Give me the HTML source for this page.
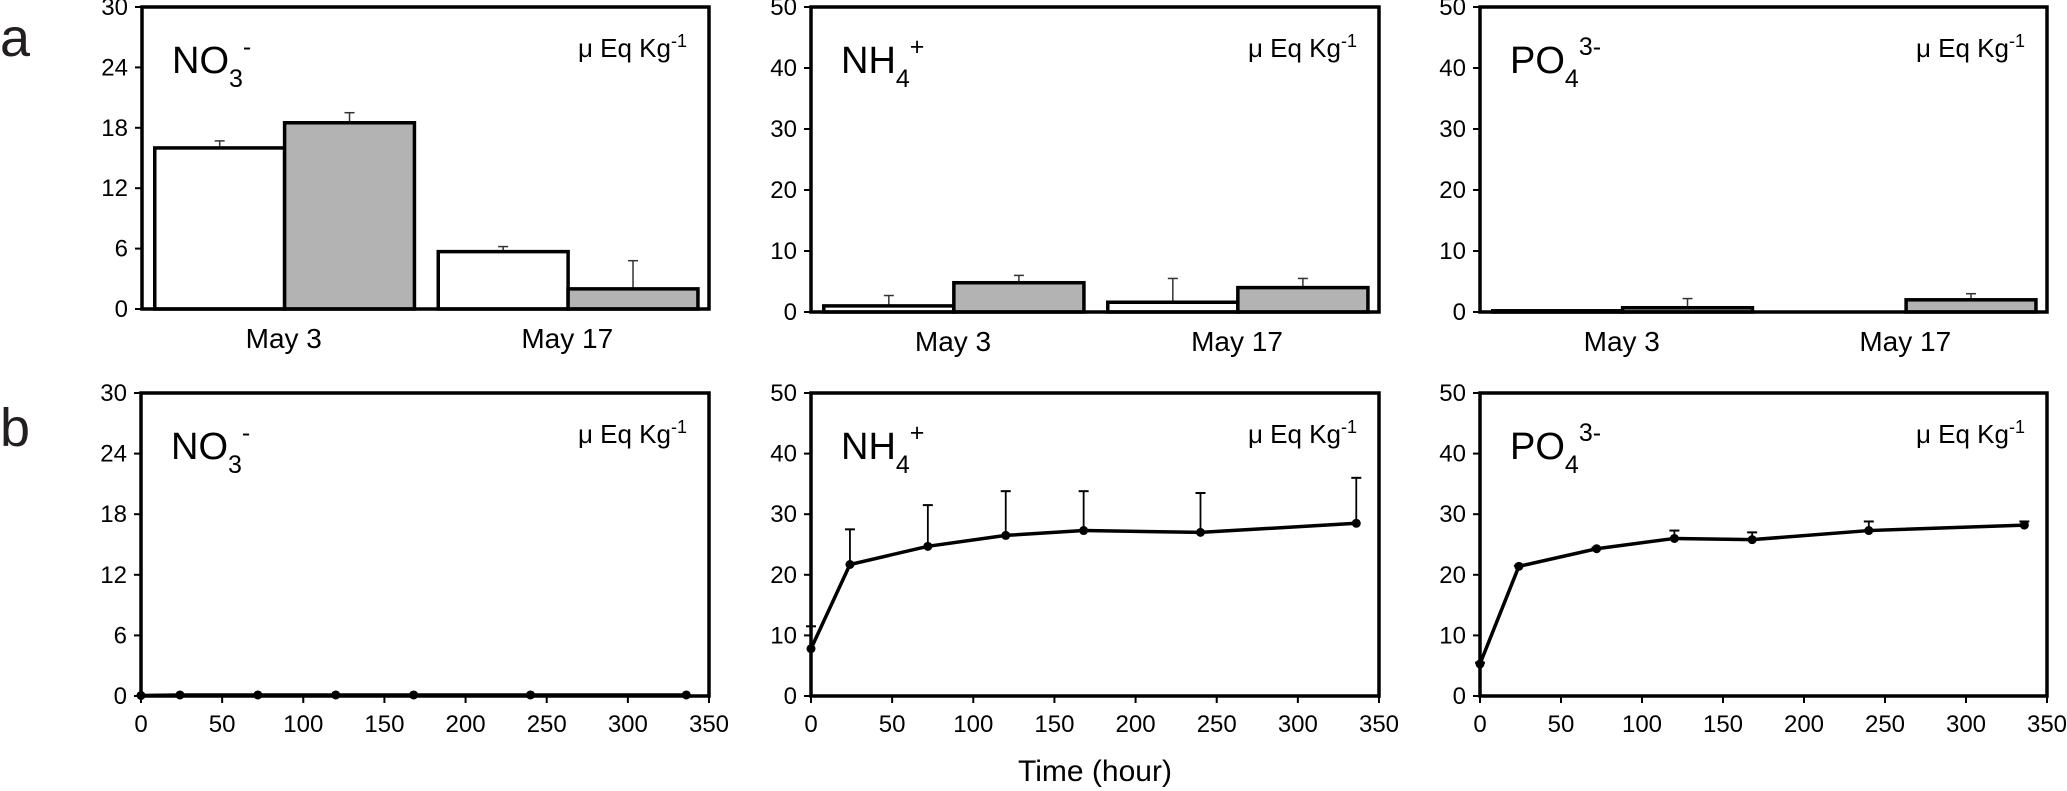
<!DOCTYPE html>
<html><head><meta charset="utf-8"><style>
html,body{margin:0;padding:0;background:#fff;}
svg{display:block;font-family:"Liberation Sans",Arial,sans-serif;}
</style></head><body>
<svg id="fig" width="2067" height="791" viewBox="0 0 2067 791"></svg>
<script>
// ---- data ----
const barCategories = ["May 3", "May 17"];
const no3White = [16, 5.7];
const no3WhiteErr = [16.7, 6.2];
const no3Gray = [18.5, 2.0];
const no3GrayErr = [19.5, 4.8];
const nh4White = [1.0, 1.6];
const nh4WhiteErr = [2.7, 5.5];
const nh4Gray = [4.8, 4.0];
const nh4GrayErr = [6.0, 5.5];
const po4White = [0.2, 0.0];
const po4WhiteErr = [0.2, 0.0];
const po4Gray = [0.7, 2.0];
const po4GrayErr = [2.2, 3.0];

const timeHours = [0, 24, 72, 120, 168, 240, 336];
const no3Line = [0.05, 0.1, 0.1, 0.1, 0.1, 0.1, 0.1];
const nh4Line = [7.8, 21.7, 24.7, 26.5, 27.3, 27.0, 28.5];
const nh4LineErr = [11.5, 27.5, 31.5, 33.8, 33.8, 33.5, 36.0];
const po4Line = [5.3, 21.4, 24.3, 26.0, 25.8, 27.3, 28.2];
const po4LineErr = [5.5, 21.5, 24.5, 27.3, 27.0, 28.8, 28.8];

const ticksNO3 = [0, 6, 12, 18, 24, 30];
const ticks50 = [0, 10, 20, 30, 40, 50];
const timeTicks = [0, 50, 100, 150, 200, 250, 300, 350];

const NS = "http://www.w3.org/2000/svg";
const svg = document.getElementById("fig");
function mk(tag, attrs, parent) {
  const e = document.createElementNS(NS, tag);
  for (const k in attrs) e.setAttribute(k, attrs[k]);
  (parent || svg).appendChild(e);
  return e;
}

function panel(name, L, R, T, B, ymax, yticks) {
  const g = mk("g", {});
  
  
  const y = v => B - (v / ymax) * (B - T);
  yticks.forEach(t => {
    const yy = y(t);
    const tk = mk("line", {x1: L - 7, x2: L, y1: yy, y2: yy, stroke: "#000", "stroke-width": 2}, g);
    
    
    const tx = mk("text", {x: L - 14, y: yy + 8, "text-anchor": "end", "font-size": 24}, g);
    tx.textContent = t;
    
    
  });
  return {g, y};
}

function frame(g, L, R, T, B) {
  const f = mk("rect", {x: L, y: T, width: R - L, height: B - T, fill: "none", stroke: "#000", "stroke-width": 3.5}, g);
  
  
}

function labels(g, L, R, T, base, sup, sub) {
  const t = mk("text", {x: L + 30, y: T + 66, "font-size": 38}, g);
  
  
  t.innerHTML = base + '<tspan dy="14" font-size="25">' + sub + '</tspan><tspan dy="-32" font-size="25">' + sup + '</tspan>';
  const u = mk("text", {x: R - 22, y: T + 50, "text-anchor": "end", "font-size": 26}, g);
  
  
  u.innerHTML = 'μ Eq Kg<tspan dy="-10" font-size="18">-1</tspan>';
}

function barPanel(name, L, R, T, B, ymax, yticks, white, whiteErr, gray, grayErr, base, sup, sub) {
  const {g, y} = panel(name, L, R, T, B, ymax, yticks);
  const cw = (R - L) / barCategories.length;
  const bw = cw * 0.458;
  barCategories.forEach((c, i) => {
    const x0 = L + i * cw + cw * 0.045;
    [[white, whiteErr, "#fff", "white"], [gray, grayErr, "#b3b3b3", "gray"]].forEach((s, j) => {
      const xb = x0 + j * bw;
      const v = s[0][i], e = s[1][i];
      if (e > v) {
        const el = mk("line", {x1: xb + bw / 2, x2: xb + bw / 2, y1: y(v), y2: y(e), stroke: "#333", "stroke-width": 1.5}, g);
        
        
        const cap = mk("line", {x1: xb + bw / 2 - 5, x2: xb + bw / 2 + 5, y1: y(e), y2: y(e), stroke: "#333", "stroke-width": 1.5}, g);
        
        
      }
      const r = mk("rect", {x: xb, y: y(v), width: bw, height: Math.max(0, B - y(v)), fill: s[2], stroke: "#000", "stroke-width": 3.5}, g);
      
      
    });
    const tx = mk("text", {x: L + i * cw + cw / 2, y: B + 39, "text-anchor": "middle", "font-size": 28}, g);
    tx.textContent = c;
    
    
  });
  frame(g, L, R, T, B);
  labels(g, L, R, T, base, sup, sub);
}

function linePanel(name, L, R, T, B, ymax, yticks, vals, errs, base, sup, sub) {
  const {g, y} = panel(name, L, R, T, B, ymax, yticks);
  const x = v => L + (v / 350) * (R - L);
  timeTicks.forEach(t => {
    const tk = mk("line", {x1: x(t), x2: x(t), y1: B, y2: B + 7, stroke: "#000", "stroke-width": 2}, g);
    
    
    const tx = mk("text", {x: x(t), y: B + 36, "text-anchor": "middle", "font-size": 24}, g);
    tx.textContent = t;
    
    
  });
  if (errs) {
    timeHours.forEach((t, i) => {
      if (errs[i] > vals[i]) {
        const el = mk("line", {x1: x(t), x2: x(t), y1: y(vals[i]), y2: y(errs[i]), stroke: "#000", "stroke-width": 1.8}, g);
        
        
        const cap = mk("line", {x1: x(t) - 5, x2: x(t) + 5, y1: y(errs[i]), y2: y(errs[i]), stroke: "#000", "stroke-width": 2}, g);
        
        
      }
    });
  }
  const pts = timeHours.map((t, i) => x(t) + "," + y(vals[i])).join(" ");
  const pl = mk("polyline", {points: pts, fill: "none", stroke: "#000", "stroke-width": 3.5}, g);
  
  
  timeHours.forEach((t, i) => {
    const c = mk("circle", {cx: x(t), cy: y(vals[i]), r: 4.5, fill: "#000"}, g);
    
    
  });
  frame(g, L, R, T, B);
  labels(g, L, R, T, base, sup, sub);
}

barPanel("panel-a-no3", 142, 709, 7, 309, 30, ticksNO3, no3White, no3WhiteErr, no3Gray, no3GrayErr, "NO", "-", "3");
barPanel("panel-a-nh4", 811, 1379, 7, 312, 50, ticks50, nh4White, nh4WhiteErr, nh4Gray, nh4GrayErr, "NH", "+", "4");
barPanel("panel-a-po4", 1480, 2047, 7, 312, 50, ticks50, po4White, po4WhiteErr, po4Gray, po4GrayErr, "PO", "3-", "4");

linePanel("panel-b-no3", 141, 709, 393, 696, 30, ticksNO3, no3Line, null, "NO", "-", "3");
linePanel("panel-b-nh4", 811, 1379, 393, 696, 50, ticks50, nh4Line, nh4LineErr, "NH", "+", "4");
linePanel("panel-b-po4", 1480, 2047, 393, 696, 50, ticks50, po4Line, po4LineErr, "PO", "3-", "4");

const la = mk("text", {x: 0, y: 56, "font-size": 54, fill: "#231f20"});
la.textContent = "a";


const lb = mk("text", {x: 0, y: 446, "font-size": 54, fill: "#231f20"});
lb.textContent = "b";


const xt = mk("text", {x: 1095, y: 781, "text-anchor": "middle", "font-size": 30});
xt.textContent = "Time (hour)";


</script>
</body></html>
